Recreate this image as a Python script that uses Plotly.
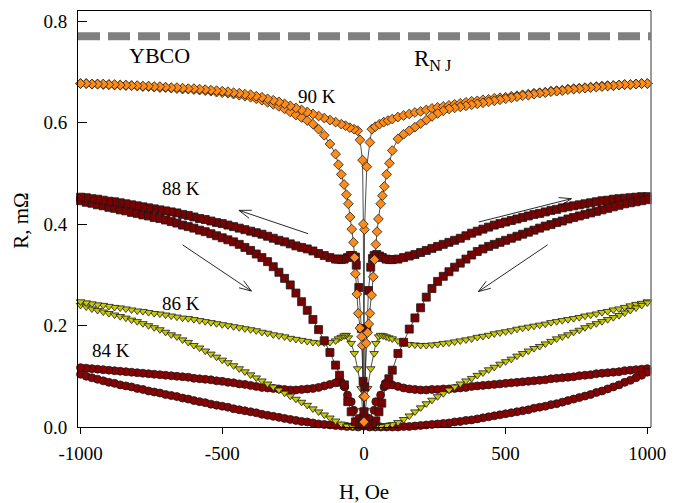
import math
import plotly.graph_objects as go

# Field sweep grid for the outer branches, |H| = 1000 ... 100 Oe (step 20 Oe)
H_FAR = list(range(1000, 99, -20))

# Normal-state junction resistance (mOhm)
R_NJ = 0.77

# ---------------- 90 K ----------------
R90_UL = [.677, .677, .676, .676, .676, .675, .675, .674, .674, .673,
          .673, .672, .672, .671, .671, .670, .669, .669, .668, .667,
          .667, .666, .665, .664, .663, .662, .661, .659, .658, .656,
          .655, .652, .650, .647, .644, .641, .637, .633, .629, .625,
          .621, .617, .613, .609, .605, .601]
R90_LL = [.677, .677, .676, .676, .675, .675, .674, .674, .673, .673,
          .672, .671, .671, .670, .669, .669, .668, .667, .666, .666,
          .665, .664, .663, .662, .660, .659, .658, .656, .654, .652,
          .650, .647, .644, .640, .636, .632, .627, .621, .615, .610,
          .604, .597, .587, .575, .558, .538]
R90_UR = [.677, .677, .676, .675, .675, .674, .673, .673, .672, .671,
          .670, .669, .668, .667, .666, .664, .663, .662, .660, .659,
          .658, .656, .655, .653, .652, .650, .649, .648, .646, .645,
          .643, .642, .640, .638, .636, .634, .632, .630, .628, .625,
          .622, .620, .617, .614, .611, .607]
R90_LR = [.677, .677, .676, .675, .675, .674, .673, .672, .671, .670,
          .669, .668, .667, .666, .665, .663, .662, .661, .659, .658,
          .656, .654, .653, .651, .649, .647, .645, .643, .641, .639,
          .637, .635, .633, .631, .629, .627, .623, .618, .612, .605,
          .598, .591, .584, .577, .568, .545]
H90_UP = [-90, -80, -70, -62, -55, -49, -43, -37, -33, -30, -25, -20, -14, -8, -6, -2, 0,
          2, 10, 21, 28, 40, 55, 70, 85]
R90_UP = [.517, .498, .478, .458, .440, .414, .390, .364, .334, .302, .262, .224, .195, .178, .161, .060, .010,
          .389, .513, .561, .587, .592, .597, .601, .604]
H90_DN = [90, 80, 72, 65, 59, 51, 46, 42, 37, 33, 27, 21, 17, 13, 8, 3, 0,
          -2, -5, -14, -22, -35, -50, -65, -80]
R90_DN = [.520, .498, .474, .456, .440, .410, .385, .360, .330, .296, .260, .224, .203, .186, .165, .060, .010,
          .400, .526, .566, .584, .587, .590, .594, .597]

# ---------------- 88 K ----------------
R88_UL = [.453, .452, .450, .449, .447, .445, .444, .442, .440, .438,
          .436, .434, .432, .430, .428, .426, .424, .422, .419, .417,
          .414, .411, .409, .406, .403, .401, .398, .395, .392, .389,
          .386, .383, .380, .376, .372, .368, .365, .361, .357, .354,
          .351, .347, .342, .338, .334, .331]
R88_UR = [.454, .454, .453, .452, .451, .450, .449, .447, .446, .444,
          .442, .440, .438, .436, .434, .432, .429, .427, .424, .421,
          .419, .416, .413, .410, .407, .404, .401, .398, .394, .390,
          .386, .382, .377, .372, .368, .364, .360, .356, .352, .348,
          .344, .340, .337, .334, .331, .330]
R88_LL = [.446, .443, .441, .438, .436, .433, .431, .428, .426, .423,
          .421, .418, .416, .413, .411, .408, .405, .402, .398, .395,
          .392, .388, .385, .381, .377, .373, .369, .365, .360, .354,
          .348, .341, .334, .326, .316, .305, .293, .280, .264, .247,
          .230, .212, .192, .170, .147, .122]
R88_LR = [.448, .446, .444, .442, .440, .437, .434, .431, .428, .425,
          .422, .419, .416, .413, .410, .406, .403, .399, .396, .392,
          .388, .384, .380, .376, .372, .368, .364, .360, .356, .351,
          .346, .339, .331, .323, .315, .306, .297, .287, .273, .256,
          .235, .215, .193, .167, .145, .112]
H88_UP = [-86, -69, -57, -45, -30, -15, -5, 0, 3, 10, 16, 24, 30, 36, 45, 55, 65, 78, 90]
R88_UP = [.102, .083, .050, .030, .010, .004, .004, .020, .079, .194, .269, .315, .332, .338, .340, .337, .334, .331, .330]
H88_DN = [88, 77, 63, 53, 42, 30, 15, 5, 0, -3, -9, -18, -27, -30, -40, -48, -58, -70, -80, -90]
R88_DN = [.095, .083, .047, .030, .012, .004, .004, .004, .030, .090, .194, .275, .319, .335, .338, .338, .334, .331, .330, .331]

# ---------------- 86 K ----------------
R86_UL = [.247, .245, .243, .241, .240, .238, .236, .235, .233, .231,
          .229, .228, .226, .224, .223, .221, .219, .217, .215, .214,
          .212, .210, .208, .206, .204, .202, .200, .198, .196, .194,
          .192, .190, .187, .185, .182, .180, .178, .175, .173, .171,
          .169, .167, .166, .166, .167, .170]
R86_UR = [.247, .244, .242, .239, .236, .233, .231, .228, .226, .223,
          .221, .219, .216, .214, .212, .210, .208, .206, .203, .201,
          .199, .197, .195, .193, .190, .188, .186, .184, .181, .179,
          .177, .174, .172, .170, .168, .166, .165, .163, .162, .161,
          .161, .162, .163, .166, .170, .174]
R86_LL = [.240, .237, .233, .230, .227, .224, .221, .218, .215, .211,
          .208, .204, .200, .196, .192, .187, .182, .178, .172, .167,
          .161, .156, .150, .144, .138, .132, .127, .121, .115, .109,
          .103, .097, .091, .085, .079, .073, .067, .061, .055, .049,
          .043, .036, .030, .024, .018, .012]
R86_LR = [.245, .240, .235, .230, .225, .220, .216, .212, .208, .204,
          .200, .196, .191, .187, .182, .178, .174, .169, .164, .159,
          .155, .150, .145, .140, .134, .129, .124, .118, .113, .107,
          .102, .096, .091, .085, .079, .073, .066, .060, .053, .046,
          .038, .030, .022, .015, .009, .005]
H86_UP = [-80, -60, -40, -20, 0, 5, 13, 24, 36, 42, 52, 59, 68, 78, 88]
R86_UP = [.006, .002, .001, .000, .004, .033, .076, .115, .145, .165, .178, .181, .180, .178, .176]
H86_DN = [80, 60, 40, 20, 0, -5, -10, -22, -34, -45, -55, -63, -70, -80, -90]
R86_DN = [.003, .001, .000, .000, .004, .033, .076, .115, .145, .165, .176, .181, .180, .177, .174]

# ---------------- 84 K ----------------
R84_UL = [.117, .116, .115, .114, .113, .112, .111, .110, .109, .108,
          .107, .106, .105, .104, .103, .102, .101, .100, .099, .098,
          .096, .095, .094, .093, .091, .090, .088, .087, .085, .084,
          .082, .080, .078, .077, .076, .075, .074, .073, .073, .074,
          .075, .076, .078, .081, .084, .087]
R84_UR = [.115, .114, .113, .112, .111, .109, .108, .107, .106, .105,
          .103, .102, .101, .099, .098, .097, .096, .095, .093, .092,
          .091, .090, .089, .088, .087, .086, .085, .084, .083, .082,
          .081, .080, .078, .077, .076, .075, .075, .074, .074, .073,
          .073, .074, .075, .077, .080, .083]
R84_LL = [.104, .100, .097, .094, .091, .088, .086, .083, .081, .079,
          .076, .074, .071, .069, .067, .064, .062, .060, .057, .055,
          .052, .050, .048, .045, .043, .041, .039, .036, .034, .032,
          .030, .028, .025, .023, .021, .019, .017, .015, .013, .011,
          .010, .008, .006, .005, .004, .003]
R84_LR = [.108, .102, .097, .092, .088, .083, .079, .075, .071, .068,
          .064, .061, .058, .055, .052, .049, .046, .044, .041, .039,
          .037, .034, .032, .030, .028, .026, .024, .022, .020, .018,
          .016, .014, .013, .011, .010, .008, .007, .006, .005, .004,
          .003, .002, .001, .001, .000, .000]
H84_UP = [-80, -60, -40, -20, 0, 7, 18, 36, 42, 59, 71, 77, 88]
R84_UP = [.002, .001, .001, .000, .002, .007, .017, .033, .050, .063, .079, .086, .085]
H84_DN = [80, 60, 40, 20, 0, -7, -18, -36, -45, -58, -68, -80, -90]
R84_DN = [.000, .000, .000, .000, .002, .007, .017, .033, .050, .063, .079, .088, .088]

X_TICKS = [-1000, -500, 0, 500, 1000]
X_TICKTEXT = ["-1000", "-500", "0", "500", "1000"]
Y_TICKS = [0, 0.2, 0.4, 0.6, 0.8]
X_RANGE = [-1009, 1013]
Y_RANGE = [0, 0.82]
SERIF = "Liberation Serif"

# plot-area size in px (figure 676x503 minus margins) -> px per data unit
PLOT_W, PLOT_H = 581, 417
PX_X = PLOT_W / (X_RANGE[1] - X_RANGE[0])
PX_Y = PLOT_H / (Y_RANGE[1] - Y_RANGE[0])


def loop(r_ll, h_up, r_up, r_ur, r_lr, h_dn, r_dn, r_ul):
    """Full field cycle: -1000 -> +1000 (lower-left, centre, upper-right),
    then +1000 -> -1000 (lower-right, centre, upper-left)."""
    rise = H_FAR[::-1]
    h = ([-v for v in H_FAR] + h_up + rise +
         H_FAR + h_dn + [-v for v in rise])
    r = (r_ll + r_up + r_ur[::-1] +
         r_lr + r_dn + r_ul[::-1])
    return h, r


series = [
    ("84 K", loop(R84_LL, H84_UP, R84_UP, R84_UR, R84_LR, H84_DN, R84_DN, R84_UL),
     "circle", 8, "#8b0000"),
    ("86 K", loop(R86_LL, H86_UP, R86_UP, R86_UR, R86_LR, H86_DN, R86_DN, R86_UL),
     "triangle-down", 7.5, "#c9c900"),
    ("88 K", loop(R88_LL, H88_UP, R88_UP, R88_UR, R88_LR, H88_DN, R88_DN, R88_UL),
     "square", 8, "#7a0000"),
    ("90 K", loop(R90_LL, H90_UP, R90_UP, R90_UR, R90_LR, H90_DN, R90_DN, R90_UL),
     "diamond", 7.5, "#ff8c1a"),
]

fig = go.Figure()

# normal-state level
fig.add_trace(go.Scatter(
    x=X_RANGE, y=[R_NJ, R_NJ], mode="lines",
    line=dict(color="#808080", width=8, dash="22px,8px"),
    hoverinfo="skip", cliponaxis=False))

for name, (h, r), sym, size, color in series:
    fig.add_trace(go.Scatter(
        x=h, y=r, name=name, mode="lines+markers",
        line=dict(color="#222222", width=0.8),
        marker=dict(symbol=sym, size=size, color=color,
                    line=dict(color="#1a1a1a", width=0.8)),
        cliponaxis=False))

labels = [
    ("YBCO", -720, 0.732, 22, "center"),
    ("R<sub>N J</sub>", 170, 0.724, 23, "left"),
    ("90 K", -164, 0.651, 19, "center"),
    ("88 K", -647, 0.470, 19, "center"),
    ("86 K", -647, 0.244, 19, "center"),
    ("84 K", -891, 0.151, 19, "center"),
]
annotations = [dict(x=x, y=y, text=t, showarrow=False, xanchor=xa, yanchor="middle",
                    font=dict(family=SERIF, size=s, color="black"))
               for t, x, y, s, xa in labels]

# axis titles
annotations.append(dict(text="R, m\u03a9", xref="paper", yref="paper", x=-0.1, y=0.495,
                        textangle=-90, showarrow=False, xanchor="center", yanchor="middle",
                        font=dict(family=SERIF, size=21, color="black")))
annotations.append(dict(text="H, Oe", xref="paper", yref="paper", x=0.499, y=-0.156,
                        showarrow=False, xanchor="center", yanchor="middle",
                        font=dict(family=SERIF, size=21, color="black")))

# sweep-direction arrows (tail -> head), drawn as thin lines with open V heads
sweep_arrows = [
    ((-197, 0.381), (-441, 0.427)),
    ((-640, 0.359), (-397, 0.268)),
    ((405, 0.404), (732, 0.450)),
    ((648, 0.359), (404, 0.267)),
]
HEAD_LEN, HEAD_ANG = 13.0, math.radians(19)
arrow_style = dict(color="#111111", width=0.9)
shapes = [dict(type="line", xref="paper", yref="paper", x0=1, x1=1, y0=0, y1=1,
               line=dict(color="#7a7a7a", width=1.5))]
for (tx, ty), (hx, hy) in sweep_arrows:
    shapes.append(dict(type="line", xref="x", yref="y", x0=tx, y0=ty, x1=hx, y1=hy,
                       line=arrow_style))
    dx, dy = (hx - tx) * PX_X, (hy - ty) * PX_Y
    n = math.hypot(dx, dy)
    bx, by = -dx / n, -dy / n
    for a in (HEAD_ANG, -HEAD_ANG):
        rx = bx * math.cos(a) - by * math.sin(a)
        ry = bx * math.sin(a) + by * math.cos(a)
        shapes.append(dict(type="line", xref="x", yref="y", x0=hx, y0=hy,
                           x1=hx + HEAD_LEN * rx / PX_X, y1=hy + HEAD_LEN * ry / PX_Y,
                           line=arrow_style))

fig.update_layout(
    width=676, height=503,
    margin=dict(l=78, r=17, t=10, b=76),
    paper_bgcolor="white", plot_bgcolor="white",
    showlegend=False,
    font=dict(family=SERIF, size=19, color="black"),
    annotations=annotations,
    shapes=shapes,
)
fig.update_xaxes(
    range=X_RANGE, tickvals=X_TICKS, ticktext=X_TICKTEXT,
    ticks="outside", ticklen=6, tickwidth=1, tickcolor="black",
    showline=True, linecolor="black", linewidth=1, mirror=True,
    showgrid=False, zeroline=False, ticklabelstandoff=3,
    tickfont=dict(family=SERIF, size=19, color="black"))
fig.update_yaxes(
    range=Y_RANGE, tickvals=Y_TICKS, tickformat=".1f",
    ticks="inside", ticklen=9, tickwidth=1, tickcolor="black",
    showline=True, linecolor="black", linewidth=1,
    showgrid=False, zeroline=False, ticklabelstandoff=6,
    tickfont=dict(family=SERIF, size=19, color="black"))

fig.write_html("out.html")
